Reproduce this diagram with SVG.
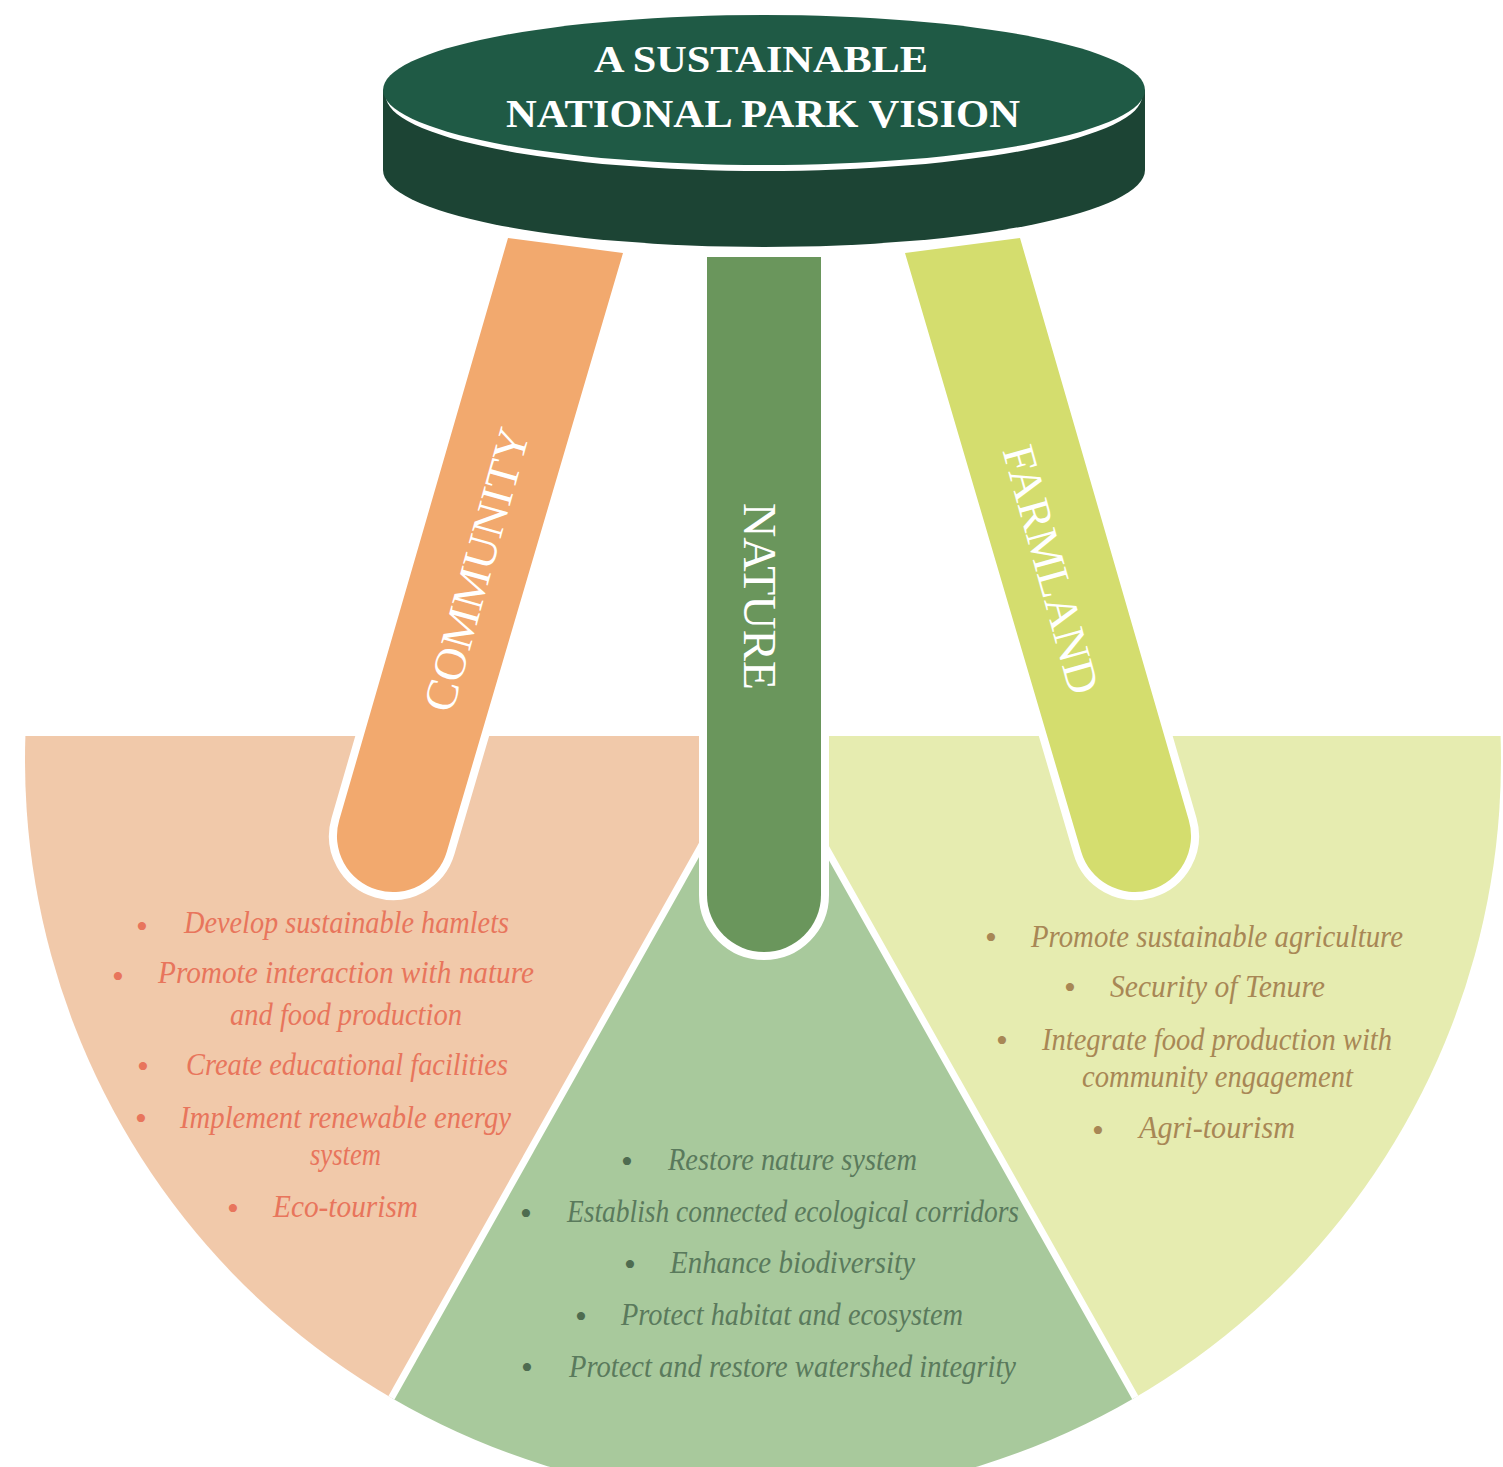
<svg xmlns="http://www.w3.org/2000/svg" width="1503" height="1467" viewBox="0 0 1503 1467">
<style>
.item{font-family:"Liberation Serif","Times New Roman",serif;font-style:italic;font-size:31px;text-anchor:middle;}
.bul{font-family:"Liberation Serif","Times New Roman",serif;font-size:34px;text-anchor:middle;}
.com{fill:#e8755c;}
.nat{fill:#5a7a5c;}
.natb{fill:#4e6c50;}
.farm{fill:#a88755;}
.leglbl{font-family:"Liberation Serif","Times New Roman",serif;font-size:45px;fill:#ffffff;text-anchor:middle;}
.title{font-family:"Liberation Serif","Times New Roman",serif;font-size:40px;font-weight:bold;fill:#ffffff;text-anchor:middle;}
.leg{stroke:#ffffff;stroke-width:16;stroke-linejoin:round;paint-order:stroke;}
.divider{stroke:#ffffff;stroke-width:7;fill:none;}
</style>
<defs>
<clipPath id="fan">
<path d="M25.4,736 A738,738 0 1 0 1500.6,736 Z"/>
</clipPath>
</defs>
<rect width="1503" height="1467" fill="#ffffff"/>

<g clip-path="url(#fan)">
<g id="sector-community"><path d="M763,736 L320,1525 L0,1525 L0,736 Z" fill="#f1c9aa"/></g>
<g id="sector-nature"><path d="M763,736 L320,1525 L1207,1525 Z" fill="#a8c99c"/></g>
<g id="sector-farmland"><path d="M763,736 L1207,1525 L1503,1525 L1503,736 Z" fill="#e6ecb0"/></g>
<g id="connectors">
<line class="divider" x1="763" y1="736" x2="320" y2="1525"/>
<line class="divider" x1="763" y1="736" x2="1207" y2="1525"/>
</g>
</g>

<g id="leg-community">
<path class="leg" d="M508,238 L623,253 L446.8,851.7 A56,56 0 0 1 339.2,820.3 Z" fill="#f2a96e"/>
<text class="leglbl" transform="translate(491,573.5) rotate(-74.5)" textLength="292" lengthAdjust="spacingAndGlyphs">COMMUNITY</text>
</g>
<g id="leg-nature">
<path class="leg" d="M707,257 H821 V895 A57,57 0 0 1 707,895 Z" fill="#6a965c"/>
<text class="leglbl" style="font-size:47px" transform="translate(744,596.5) rotate(90)" textLength="187" lengthAdjust="spacingAndGlyphs">NATURE</text>
</g>
<g id="leg-farmland">
<path class="leg" d="M1020,238 L905,253 L1081.2,851.7 A56,56 0 0 0 1188.8,820.3 Z" fill="#d4dd6e"/>
<text class="leglbl" transform="translate(1036.5,573.5) rotate(74.5)" textLength="256" lengthAdjust="spacingAndGlyphs">FARMLAND</text>
</g>

<g id="seat">
<path d="M383,90 L1145,90 L1145,170 A381,77 0 0 1 383,170 Z" fill="#1c4434"/>
<ellipse cx="764" cy="96" rx="378" ry="75" fill="#ffffff"/>
<ellipse cx="764" cy="90" rx="381" ry="75" fill="#1f5a45"/>
<text class="title" x="761" y="72" style="font-size:38px" textLength="334" lengthAdjust="spacingAndGlyphs">A SUSTAINABLE</text>
<text class="title" x="763" y="127" textLength="514" lengthAdjust="spacingAndGlyphs">NATIONAL PARK VISION</text>
</g>

<g id="text-community">
<text class="bul com" x="142" y="938">•</text>
<text class="item com" x="346.5" y="933" textLength="325" lengthAdjust="spacingAndGlyphs">Develop sustainable hamlets</text>
<text class="bul com" x="118" y="988">•</text>
<text class="item com" x="346" y="983" textLength="376" lengthAdjust="spacingAndGlyphs">Promote interaction with nature</text>
<text class="item com" x="346" y="1025" textLength="232" lengthAdjust="spacingAndGlyphs">and food production</text>
<text class="bul com" x="143" y="1078">•</text>
<text class="item com" x="347" y="1075" textLength="322" lengthAdjust="spacingAndGlyphs">Create educational facilities</text>
<text class="bul com" x="141" y="1130">•</text>
<text class="item com" x="345.5" y="1128" textLength="331" lengthAdjust="spacingAndGlyphs">Implement renewable energy</text>
<text class="item com" x="345.5" y="1165" textLength="71" lengthAdjust="spacingAndGlyphs">system</text>
<text class="bul com" x="233" y="1220">•</text>
<text class="item com" x="345.5" y="1217" textLength="145" lengthAdjust="spacingAndGlyphs">Eco-tourism</text>
</g>

<g id="text-nature">
<text class="bul natb" x="627" y="1173">•</text>
<text class="item nat" x="792.5" y="1170" textLength="249" lengthAdjust="spacingAndGlyphs">Restore nature system</text>
<text class="bul natb" x="526" y="1225">•</text>
<text class="item nat" x="793" y="1222" textLength="452" lengthAdjust="spacingAndGlyphs">Establish connected ecological corridors</text>
<text class="bul natb" x="630" y="1276">•</text>
<text class="item nat" x="792.5" y="1273" textLength="245" lengthAdjust="spacingAndGlyphs">Enhance biodiversity</text>
<text class="bul natb" x="581" y="1328">•</text>
<text class="item nat" x="792" y="1325" textLength="342" lengthAdjust="spacingAndGlyphs">Protect habitat and ecosystem</text>
<text class="bul natb" x="527" y="1379">•</text>
<text class="item nat" x="792.5" y="1377" textLength="447" lengthAdjust="spacingAndGlyphs">Protect and restore watershed integrity</text>
</g>

<g id="text-farmland">
<text class="bul farm" x="991" y="949">•</text>
<text class="item farm" x="1217" y="947" textLength="372" lengthAdjust="spacingAndGlyphs">Promote sustainable agriculture</text>
<text class="bul farm" x="1070" y="999">•</text>
<text class="item farm" x="1217.5" y="997" textLength="215" lengthAdjust="spacingAndGlyphs">Security of Tenure</text>
<text class="bul farm" x="1002" y="1052">•</text>
<text class="item farm" x="1217" y="1050" textLength="350" lengthAdjust="spacingAndGlyphs">Integrate food production with</text>
<text class="item farm" x="1217.5" y="1087" textLength="271" lengthAdjust="spacingAndGlyphs">community engagement</text>
<text class="bul farm" x="1098" y="1142">•</text>
<text class="item farm" x="1217" y="1138" textLength="156" lengthAdjust="spacingAndGlyphs">Agri-tourism</text>
</g>
</svg>
